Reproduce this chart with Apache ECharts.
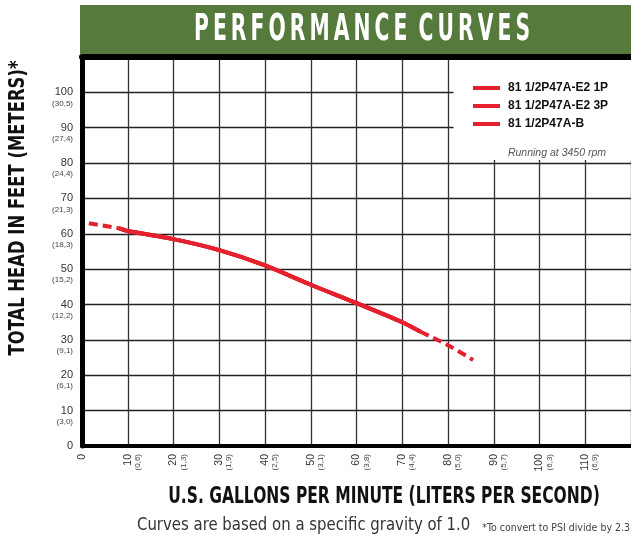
<!DOCTYPE html>
<html>
<head>
<meta charset="utf-8">
<script src="https://cdn.jsdelivr.net/npm/echarts@6/dist/echarts.min.js"></script>
<style>
  html, body { margin: 0; padding: 0; background: #fff; }
  #chart { width: 631px; height: 542px; }
</style>
</head>
<body>
<div id="chart"></div>
<script>
// pump curve
const flowGpm = [1.5, 8, 10, 20, 30, 40, 50, 60, 70, 74, 80, 85.5];
const headFt = [63, 61.6, 60.8, 58.5, 55.4, 51.1, 45.6, 40.4, 35, 32.3, 28.5, 24.3];
// which points are solid, the rest are dashed extensions
const solidFrom = 1;
const solidTo = 9;

const models = ['81 1/2P47A-E2 1P', '81 1/2P47A-E2 3P', '81 1/2P47A-B'];

const xTicks = [0, 10, 20, 30, 40, 50, 60, 70, 80, 90, 100, 110];
const xLiters = ['', '(0,6)', '(1,3)', '(1,9)', '(2,5)', '(3,1)', '(3,8)', '(4,4)', '(5,0)', '(5,7)', '(6,3)', '(6,9)'];
const yTicks = [0, 10, 20, 30, 40, 50, 60, 70, 80, 90, 100];
const yMeters = ['', '(3,0)', '(6,1)', '(9,1)', '(12,2)', '(15,2)', '(18,3)', '(21,3)', '(24,4)', '(27,4)', '(30,5)'];

const RED = '#e4212d';
const COND = '"DejaVu Sans Condensed", "DejaVu Sans", sans-serif';
const SANS = '"Liberation Sans", Arial, sans-serif';

function pts(from, to) {
  const out = [];
  for (let i = from; i <= to; i++) out.push([flowGpm[i], headFt[i]]);
  return out;
}

const chart = echarts.init(document.getElementById('chart'));

const series = models.map(name => ({
  name,
  type: 'line',
  data: pts(solidFrom, solidTo),
  smooth: 0.3,
  symbol: 'none',
  lineStyle: { color: RED, width: 4 },
  itemStyle: { color: RED },
  z: 3,
}));
series.push({
  name: 'low-flow',
  type: 'line',
  data: pts(0, solidFrom),
  symbol: 'none',
  lineStyle: { color: RED, width: 4, type: [9, 5] },
  z: 3,
});
series.push({
  name: 'high-flow',
  type: 'line',
  data: pts(solidTo, flowGpm.length - 1),
  smooth: 0.3,
  symbol: 'none',
  lineStyle: { color: RED, width: 4, type: [9, 5] },
  z: 3,
});

// condensed heading text, squeezed sideways
function heading(text, x, y, size, scaleX, rotation) {
  return {
    type: 'text',
    x, y,
    scaleX,
    rotation: rotation || 0,
    z: 51,
    style: {
      text,
      fontFamily: COND,
      fontWeight: 'bold',
      fontSize: size,
      fill: '#111',
      align: 'center',
      verticalAlign: 'middle',
    },
  };
}

const title = heading('P\u2009E\u2009R\u2009F\u2009O\u2009R\u2009M\u2009A\u2009N\u2009C\u2009E\u2009 C\u2009U\u2009R\u2009V\u2009E\u2009S', 362, 30, 37, 0.61);
title.style.fill = '#fff';

chart.setOption({
  animation: false,
  grid: { left: 82, right: -7, top: 57, bottom: 96 },
  legend: {
    data: models,
    orient: 'vertical',
    left: 468,
    top: 76,
    icon: 'rect',
    itemWidth: 27,
    itemHeight: 4,
    itemGap: 4,
    z: 100,
    textStyle: { fontFamily: SANS, fontWeight: 'bold', fontSize: 12, color: '#111', lineHeight: 14, padding: [0, 0, 0, 3] },
  },
  xAxis: [
    {
      type: 'value',
      min: 0,
      max: 120,
      interval: 10,
      position: 'bottom',
      axisLine: { lineStyle: { color: '#000', width: 4 } },
      axisTick: { show: false },
      splitLine: { lineStyle: { color: '#333', width: 1.3 } },
      axisLabel: {
        rotate: 90,
        margin: 8,
        padding: [9, 0, 0, 0],
        formatter: v => {
          const i = xTicks.indexOf(v);
          if (i < 0) return '';
          return '{a|' + v + '}\n{b|' + (xLiters[i] || ' ') + '}';
        },
        rich: {
          a: { fontFamily: SANS, fontSize: 10.5, color: '#333', lineHeight: 11 },
          b: { fontFamily: SANS, fontSize: 8, color: '#444', lineHeight: 9 },
        },
      },
    },
    {
      type: 'value',
      min: 0,
      max: 120,
      position: 'top',
      axisLine: { lineStyle: { color: '#000', width: 6 } },
      axisTick: { show: false },
      axisLabel: { show: false },
      splitLine: { show: false },
    },
  ],
  yAxis: {
    type: 'value',
    min: 0,
    max: 110,
    interval: 10,
    axisLine: { show: true, lineStyle: { color: '#000', width: 5 } },
    axisTick: { show: false },
    splitLine: { lineStyle: { color: '#222', width: 1.3 } },
    axisLabel: {
      margin: 9,
      padding: [10, 0, 0, 0],
      formatter: v => {
        const i = yTicks.indexOf(v);
        if (i < 0) return '';
        return '{a|' + v + '}\n{b|' + (yMeters[i] || ' ') + '}';
      },
      rich: {
        a: { fontFamily: SANS, fontSize: 11, color: '#333', lineHeight: 12, align: 'right' },
        b: { fontFamily: SANS, fontSize: 8, color: '#444', lineHeight: 10, align: 'right' },
      },
    },
  },
  graphic: [
    {
      type: 'rect',
      shape: { x: 80, y: 5, width: 560, height: 49 },
      style: { fill: '#557a3c' },
      z: 50,
    },
    title,
    heading('U.S. GALLONS PER MINUTE (LITERS PER SECOND)', 384, 497, 23, 0.75),
    heading('TOTAL HEAD IN FEET (METERS)*', 19, 208, 20.5, 0.89, Math.PI / 2),
    {
      type: 'rect',
      shape: { x: 453.5, y: 60, width: 190, height: 100 },
      style: { fill: '#fff' },
      z: 50,
    },
    {
      type: 'text',
      x: 606,
      y: 153,
      z: 51,
      style: {
        text: 'Running at 3450 rpm',
        fontFamily: SANS,
        fontStyle: 'italic',
        fontSize: 10.5,
        fill: '#555',
        align: 'right',
        verticalAlign: 'middle',
      },
    },
    {
      type: 'text',
      x: 137,
      y: 526,
      scaleX: 0.975,
      z: 51,
      style: {
        text: 'Curves are based on a specific gravity of 1.0',
        fontFamily: COND,
        fontSize: 17,
        fill: '#333',
        align: 'left',
        verticalAlign: 'middle',
      },
    },
    {
      type: 'text',
      x: 630,
      y: 528,
      z: 51,
      style: {
        text: '*To convert to PSI divide by 2.3',
        fontFamily: COND,
        fontSize: 10.5,
        fill: '#444',
        align: 'right',
        verticalAlign: 'middle',
      },
    },
  ],
  series,
});
</script>
</body>
</html>
